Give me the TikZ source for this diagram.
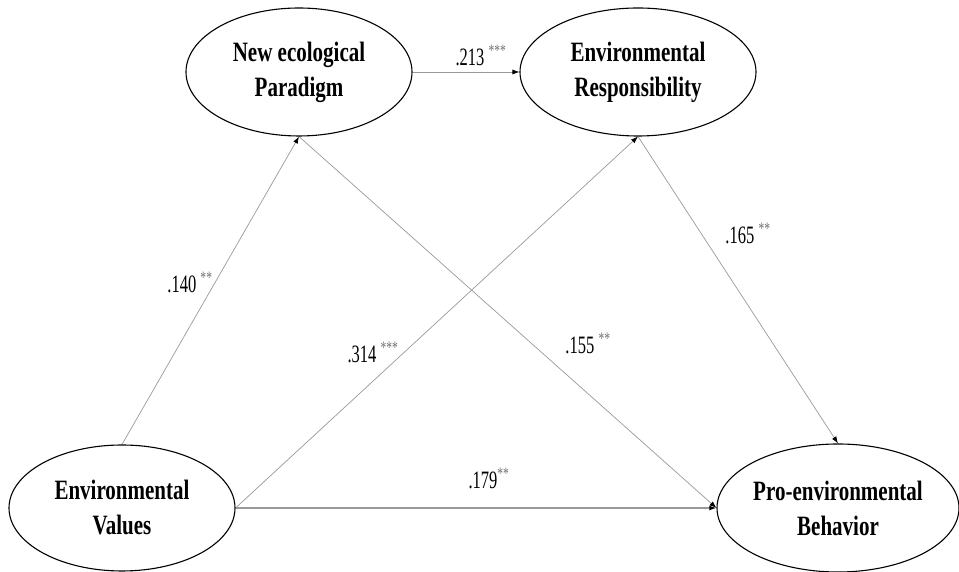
\documentclass[tikz,border=0pt]{standalone}
\usepackage{fontspec}
\setmainfont[FakeStretch=0.75]{Liberation Serif}
\newfontfamily\coeffont[FakeStretch=0.66]{Liberation Serif}
\usetikzlibrary{shapes.geometric,arrows.meta}
\pgfdeclarelayer{bg}
\pgfsetlayers{bg,main}
\tikzset{
    latent/.style={ellipse, draw, line width=1.1pt, inner sep=0pt, align=center,
        font=\fontsize{28}{35}\selectfont\bfseries},
    coef/.style={inner sep=0pt, font=\coeffont\fontsize{25}{28}\selectfont},
    path/.style={draw=gray!80, line width=0.7pt, -{Latex[black,length=7pt,width=5pt]}}
}
\newcommand{\sig}[1]{\textsuperscript{\textcolor{gray!90!black}{#1}}}

\begin{document}
\begin{tikzpicture}[x=1pt, y=1pt]
    \useasboundingbox (0,0) rectangle (959,572);

    \node (nep) [latent, minimum width=226pt, minimum height=128pt] at (299, 500) {New ecological\\Paradigm};
    \node (er) [latent, minimum width=236pt, minimum height=128pt] at (638, 500) {Environmental\\Responsibility};
    \node (ev) [latent, minimum width=226pt, minimum height=126pt] at (122, 64) {Environmental\\Values};
    \node (peb) [latent, minimum width=242pt, minimum height=128pt] at (838, 64) {Pro-environmental\\Behavior};

    \node (c213) [coef] at (481, 517) {.213\,\sig{***}};
    \node (c140) [coef] at (190, 290) {.140\,\sig{**}};
    \node (c314) [coef] at (373, 220) {.314\,\sig{***}};
    \node (c155) [coef] at (588, 229) {.155\,\sig{**}};
    \node (c165) [coef] at (748, 339) {.165\,\sig{**}};
    \node (c179) [coef] at (489, 94) {.179\sig{**}};

    \begin{pgfonlayer}{bg}
        \draw[path] (nep.east) -- (er.west);
        \draw[path] (ev.north) -- (nep.south);
        \draw[path] (ev.east) -- (er.south);
        \draw[path] (nep.south) -- (peb.west);
        \draw[path] (er.south) -- (peb.north);
        \draw[path, line width=1.3pt] (ev.east) -- (peb.west);
    \end{pgfonlayer}
\end{tikzpicture}
\end{document}
